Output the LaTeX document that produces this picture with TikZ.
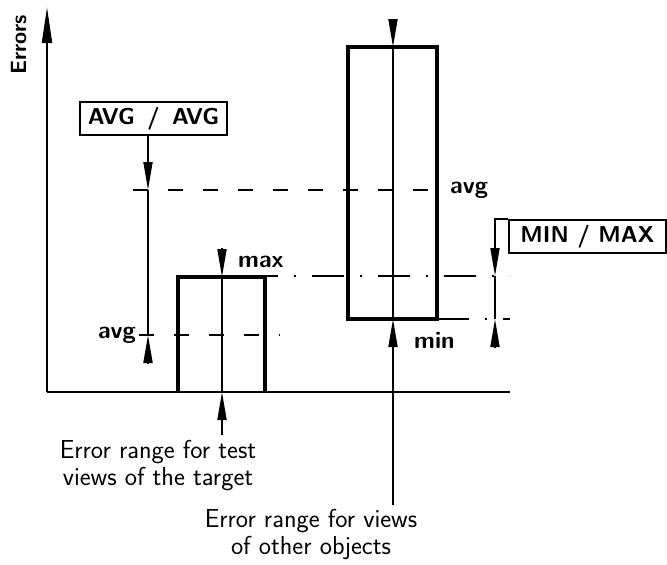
\documentclass[tikz,border=0pt]{standalone}
\usetikzlibrary{arrows.meta}
\begin{document}
\begin{tikzpicture}[x=1pt,y=-1pt,
  lbl/.style={font=\sffamily\bfseries\fontsize{24}{28}\selectfont, inner sep=0pt},
  captext/.style={font=\sffamily\fontsize{26}{27}\selectfont, align=center, inner sep=0pt},
  boxlbl/.style={draw, line width=2pt, font=\sffamily\bfseries\fontsize{23}{27}\selectfont, inner sep=0pt, minimum height=33pt},
  axis/.style={line width=2.2pt},
  bar/.style={line width=3.8pt},
  guide/.style={line width=1.8pt},
  tip/.style={-{Triangle[length=28pt,width=9pt]}, line width=1.8pt},
  avgline/.style={line width=1.8pt, dash pattern=on 15pt off 20pt},
  mmline/.style={line width=1.8pt, dash pattern=on 32pt off 16pt on 2pt off 16pt}
]
\useasboundingbox (0,0) rectangle (667,565);
% axes
\coordinate (O) at (47,392);
\coordinate (ytop) at (47,7);
\coordinate (xend) at (510,392);
\draw[axis] (O) -- (xend);
\draw[axis,-{Triangle[length=36pt,width=10pt]}] (O) -- (ytop);
\node[lbl, font=\sffamily\bfseries\fontsize{22}{26}\selectfont, rotate=90] (errors) at (19,45) {Errors};

% avg lines
\coordinate (avgAs) at (133,190);
\coordinate (avgAe) at (447,190);
\draw[avgline, dash phase=0pt] (avgAs) -- (avgAe);
\node[lbl, anchor=west] (avgA) at (450,190) {avg};
\node[lbl, anchor=east] (avgB) at (136,335) {avg};
\coordinate (avgBs) at (139,335);
\coordinate (avgBe) at (280,335);
\draw[avgline] (avgBs) -- (avgBe);

% AVG / AVG box and arrows
\node[boxlbl, minimum width=147pt] (avgbox) at (153.5,118.5) {AVG \,/\, AVG};
\coordinate (aA) at (148,190);
\coordinate (aB) at (148,335);
\coordinate (aBb) at (148,363);
\draw[tip] (avgbox.south -| aA) -- (aA);
\draw[guide] (aA) -- (aB);
\draw[tip] (aBb) -- (aB);

% min / max lines
\draw[mmline, dash phase=19pt] (265,276) coordinate (maxs) -- (510,276) coordinate (maxe);
\draw[mmline] (437,319) coordinate (mins) -- (510,319) coordinate (mine);

% small box (target)
\draw[bar] (178,392) |- (265,277) -- (265,392);
\coordinate (tTopB) at (222,248);
\coordinate (tTop) at (222,277);
\coordinate (tBot) at (222,392);
\coordinate (tBotB) at (222,435);
\draw[tip] (tTopB) -- (tTop);
\draw[guide] (tTop) -- (tBot);
\draw[tip] (tBotB) -- (tBot);
\node[lbl, anchor=west] (max) at (238,262) {max};

% big box (other objects)
\draw[bar] (348,319) rectangle (437,47);
\coordinate (oTopB) at (393,20);
\coordinate (oTop) at (393,47);
\coordinate (oBot) at (393,319);
\coordinate (oBotB) at (393,347);
\coordinate (oEnd) at (393,505);
\draw[tip] (oTopB) -- (oTop);
\draw[guide] (oTop) -- (oBot);
\draw[tip] (oEnd) -- (oBot);
\node[lbl, anchor=west] (min) at (414,340) {min};

% MIN / MAX box and arrows
\node[boxlbl, minimum width=157pt, anchor=north west] (mmbox) at (508,219) {MIN / MAX};
\coordinate (mA) at (495,276);
\coordinate (mB) at (495,319);
\coordinate (mBb) at (495,347);
\draw[tip] (mmbox.north west) -| (mA);
\draw[guide] (mA) -- (mB);
\draw[tip] (mBb) -- (mB);

% captions
\node[captext] (capT) at (158,466) {Error range for test\\views of the target};
\node[captext] (capO) at (311,535) {Error range for views\\of other objects};
\end{tikzpicture}
\end{document}
